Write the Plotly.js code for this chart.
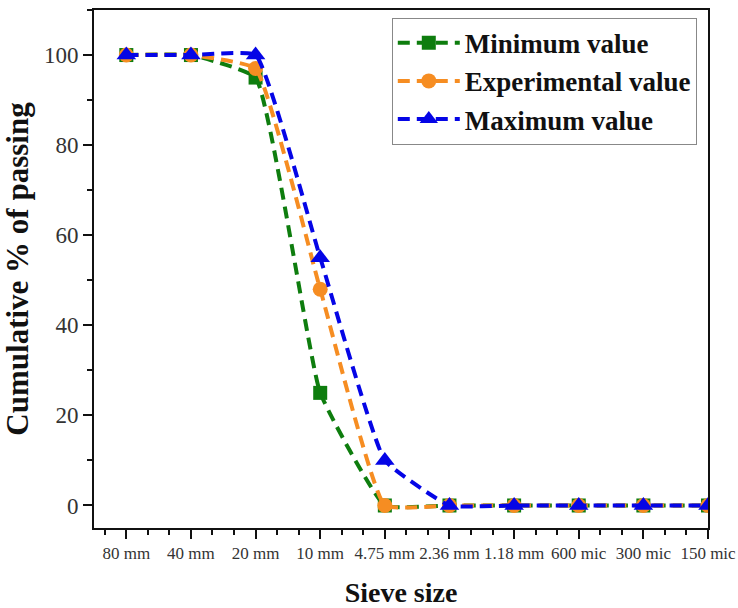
<!DOCTYPE html>
<html><head><meta charset="utf-8">
<script src="https://cdn.plot.ly/plotly-3.0.1.min.js"></script>
<style>body{margin:0;background:#fff}#c{width:738px;height:608px}</style>
</head><body><div id="c"></div>
<script>
const categories = ["80 mm","40 mm","20 mm","10 mm","4.75 mm","2.36 mm","1.18 mm","600 mic","300 mic","150 mic"];
const minimumValue = [100,100,95,25,0,0,0,0,0,0];
const experimentalValue = [100,100,97,48,0,0,0,0,0,0];
const maximumValue = [100,100,100,55,10,0,0,0,0,0];
const idx = categories.map((c,i)=>i);

const SERIF = 'Liberation Serif';
function tr(name, y, color, symbol, size){
  return {x: idx, y: y, name: name, type:'scatter', mode:'lines+markers',
    line:{color: color, width:4, dash:'12px,7px', shape:'spline', smoothing:0.35},
    marker:{color: color, symbol: symbol, size: size}};
}
const data = [
  tr('Minimum value', minimumValue, '#0e7d0e', 'square', 14),
  tr('Experimental value', experimentalValue, '#f68d22', 'circle', 15),
  tr('Maximum value', maximumValue, '#0505e6', 'triangle-up', 17)
];
const layout = {
  width:738, height:608,
  margin:{l:94, r:30, t:10, b:80},
  paper_bgcolor:'#fff', plot_bgcolor:'#fff',
  font:{family:SERIF, color:'#222'},
  showlegend:true,
  legend:{x:0.485, y:0.985, xanchor:'left', yanchor:'top', bgcolor:'rgba(255,255,255,1)',
    bordercolor:'#888', borderwidth:1, font:{family:SERIF, size:27, color:'#111', weight:'bold'},
    tracegroupgap:0, itemwidth:62},
  xaxis:{range:[-0.5,9], tickvals: idx, ticktext: categories, showgrid:false, zeroline:false,
    showline:true, linecolor:'#111', linewidth:2, mirror:true,
    ticks:'outside', ticklen:9, tickwidth:2, tickcolor:'#111',
    tickfont:{family:SERIF, size:17, color:'#333'},
    minor:{tick0:0, dtick:1/3, ticks:'outside', ticklen:5, tickwidth:2, tickcolor:'#111', showgrid:false},
    title:{text:'Sieve size', font:{family:SERIF, size:28, color:'#111', weight:'bold'}, standoff:22}},
  yaxis:{range:[-5,110], tickvals:[0,20,40,60,80,100], showgrid:false, zeroline:false,
    showline:true, linecolor:'#111', linewidth:2, mirror:true,
    ticks:'outside', ticklen:9, tickwidth:2, tickcolor:'#111',
    tickfont:{family:SERIF, size:23, color:'#333'},
    minor:{tick0:0, dtick:10, ticks:'outside', ticklen:5, tickwidth:2, tickcolor:'#111', showgrid:false},
    title:{text:'Cumulative % of passing', font:{family:SERIF, size:31, color:'#111', weight:'bold'}, standoff:10}}
};
Plotly.newPlot('c', data, layout, {displayModeBar:false, staticPlot:true});
</script></body></html>
